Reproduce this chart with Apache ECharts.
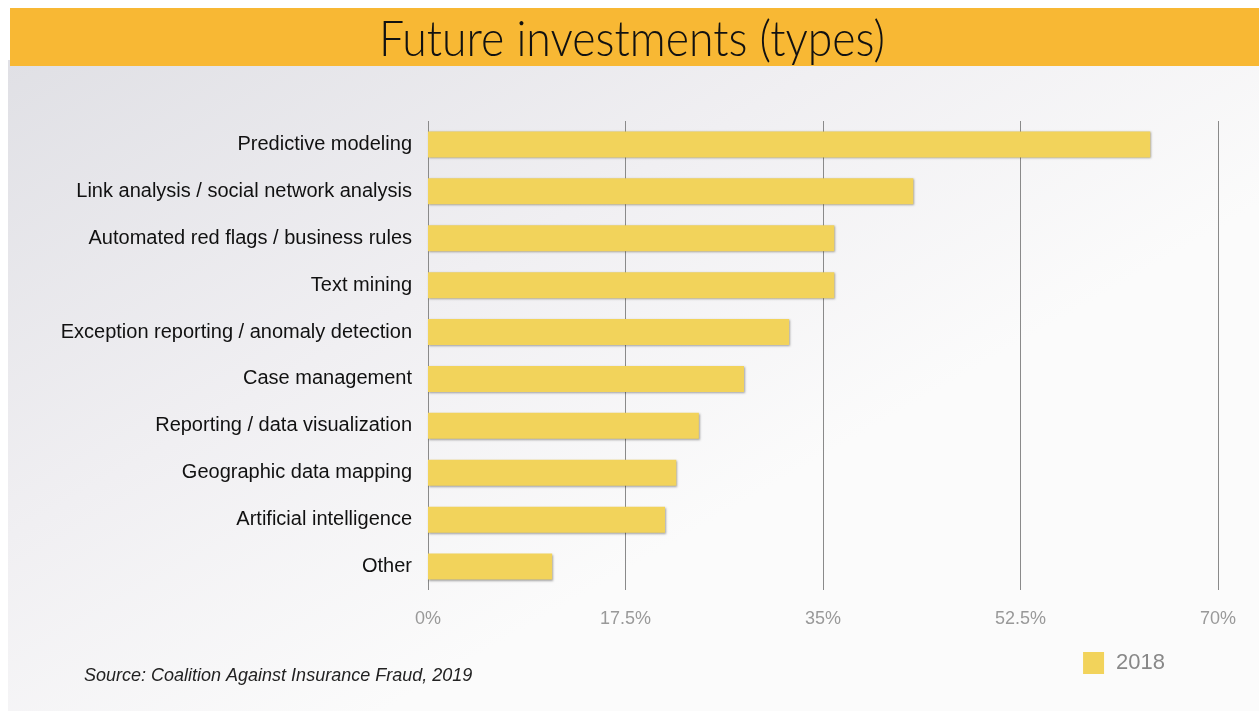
<!DOCTYPE html>
<html>
<head>
<meta charset="utf-8">
<script src="https://cdn.jsdelivr.net/npm/echarts@6/dist/echarts.min.js"></script>
<style>
html,body{margin:0;padding:0;background:#fff;}
#c{width:1259px;height:711px;}
</style>
</head>
<body>
<div id="c"></div>
<script>
const categories = [
  "Predictive modeling",
  "Link analysis / social network analysis",
  "Automated red flags / business rules",
  "Text mining",
  "Exception reporting / anomaly detection",
  "Case management",
  "Reporting / data visualization",
  "Geographic data mapping",
  "Artificial intelligence",
  "Other"
];
const values2018 = [64, 43, 36, 36, 32, 28, 24, 22, 21, 11];
const tickValues = [0, 17.5, 35, 52.5, 70];
const seriesName = "2018";

const chart = echarts.init(document.getElementById('c'));
chart.setOption({
  animation: false,
  graphic: [
    { type: 'rect', z: -10, shape: { x: 8, y: 60, width: 1251, height: 651 },
      style: { fill: new echarts.graphic.LinearGradient(0, 0, 0.3, 1, [
        { offset: 0, color: '#e0e0e5' },
        { offset: 0.55, color: '#f0eff2' },
        { offset: 1, color: '#fbfbfb' }
      ]) } },
    { type: 'rect', z: -9, shape: { x: 10, y: 8, width: 1249, height: 58 },
      style: { fill: '#F8B834' } },
    { type: 'text', x: 632, y: 16, scaleX: 0.91, z: 10,
      style: { text: 'Future investments (types)', font: '300 49px Lato', fill: '#111',
               textAlign: 'center', textVerticalAlign: 'top' } },
    { type: 'text', left: 84, top: 667, z: 10,
      style: { text: 'Source: Coalition Against Insurance Fraud, 2019', font: 'italic 18px "Liberation Sans"', fill: '#222' } }
  ],
  legend: {
    data: [seriesName],
    right: 89, top: 647,
    itemWidth: 21, itemHeight: 22, itemGap: 12,
    icon: 'rect',
    textStyle: { fontFamily: 'Liberation Sans', fontSize: 22, color: '#888', padding: [0, 0, 0, 7] }
  },
  grid: { left: 428, right: 41, top: 121, bottom: 121, containLabel: false },
  xAxis: {
    type: 'value', min: 0, max: 70, interval: 17.5,
    axisLine: { show: false }, axisTick: { show: false },
    splitLine: { lineStyle: { color: '#8a8a8a', width: 1 } },
    axisLabel: {
      margin: 20, color: '#999', fontFamily: 'Liberation Sans', fontSize: 18,
      formatter: v => tickValues.includes(v) ? v + '%' : ''
    }
  },
  yAxis: {
    type: 'category', inverse: true, data: categories,
    axisLine: { show: false }, axisTick: { show: false },
    axisLabel: { margin: 16, color: '#111', fontFamily: 'Liberation Sans', fontSize: 20 }
  },
  series: [{
    name: seriesName, type: 'bar', data: values2018,
    barWidth: 26,
    itemStyle: { color: '#F2D35B', shadowColor: 'rgba(0,0,0,0.35)', shadowBlur: 2, shadowOffsetX: 1, shadowOffsetY: 1 }
  }]
});
</script>
</body>
</html>
